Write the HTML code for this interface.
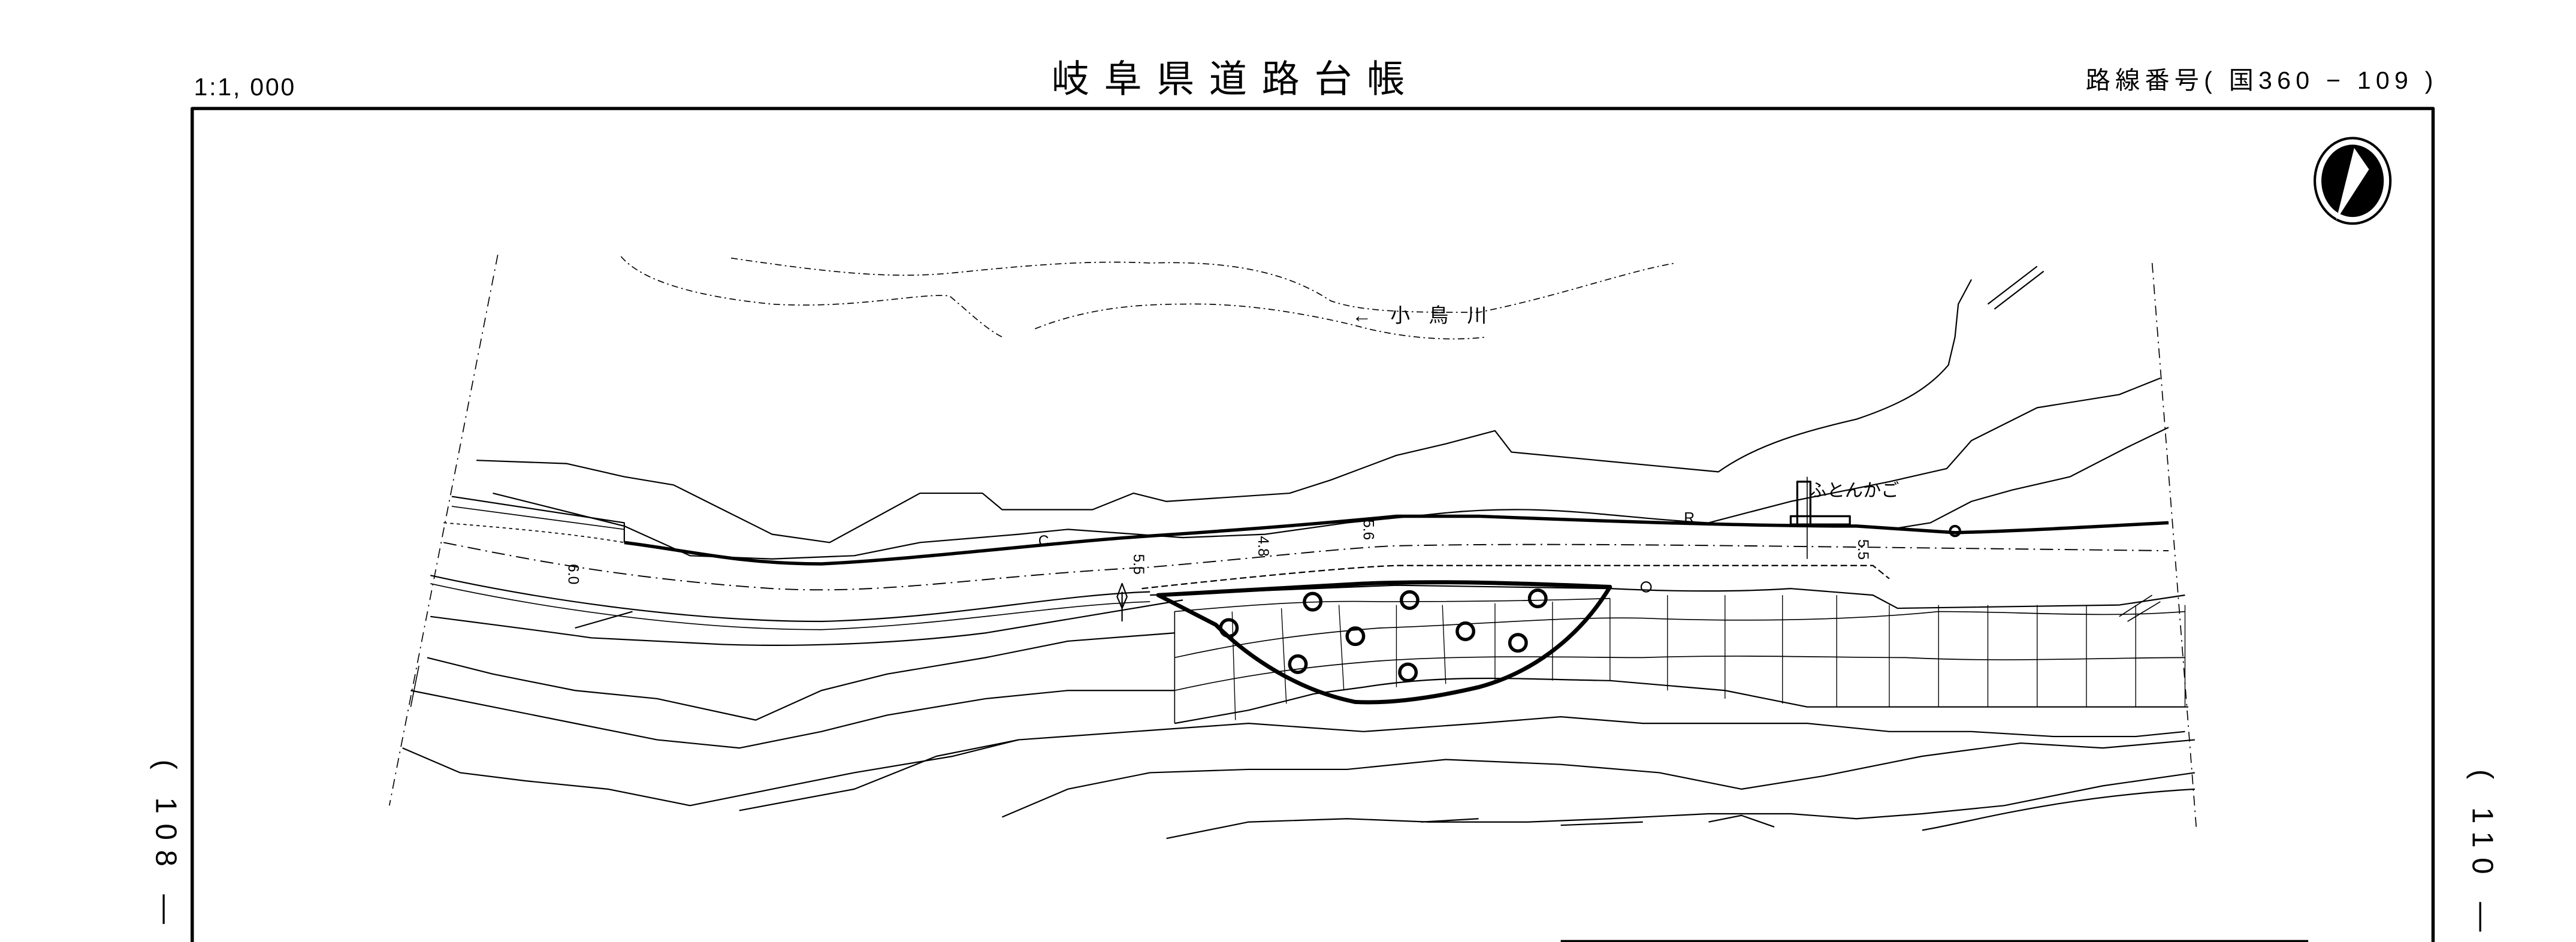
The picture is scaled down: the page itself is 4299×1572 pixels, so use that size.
<!DOCTYPE html>
<html><head><meta charset="utf-8"><style>
html,body{margin:0;padding:0;background:#fff;width:4299px;height:1572px;overflow:hidden}
svg{display:block}
text{font-family:"Liberation Sans","Noto Sans CJK JP",sans-serif;fill:#000}
</style></head><body>
<svg width="4299" height="1572" viewBox="0 0 1568 573" preserveAspectRatio="none" xmlns="http://www.w3.org/2000/svg">
<g fill="none" stroke="#000" stroke-linejoin="round">
<path d="M117,573 V66 H1481 V573" stroke-width="2"/>
<path d="M950,573 H1405" stroke-width="2.5"/>
<ellipse cx="1432" cy="110" rx="23" ry="26" stroke-width="1.5"/>
<ellipse cx="1432" cy="110" rx="19" ry="22" fill="#000" stroke="none"/>
<path d="M1433,90 L1442,103 L1422,134 Z" fill="#fff" stroke="none"/>
<path d="M303,155 L237,490" stroke-width="0.6" stroke-dasharray="6,3,1,3"/>
<path d="M1310,160 L1337,505" stroke-width="0.6" stroke-dasharray="6,3,1,3"/>
<path d="M378,156 C390,170 420,180 470,185 C520,188 560,178 578,180 C590,190 600,200 610,205" stroke-width="0.6" stroke-dasharray="4,2,1,2"/>
<path d="M445,157 C500,165 540,170 580,166 C620,162 660,158 700,160 C760,158 790,170 810,183 C830,190 860,190 900,190 C950,180 990,165 1020,160" stroke-width="0.6" stroke-dasharray="4,2,1,2"/>
<path d="M630,200 C660,188 690,185 720,185 C760,184 800,192 825,198 C850,205 880,208 905,205" stroke-width="0.6" stroke-dasharray="4,2,1,2"/>
<path d="M1210,185 L1240,162 M1214,188 L1244,165" stroke-width="0.8"/>
<path d="M1200,170 L1192,185 L1190,205 L1186,222 C1175,235 1160,245 1130,255 C1100,262 1070,270 1046,287 L920,275 L910,262 L880,270 L850,277 L810,292 L785,300 L710,305 L690,300 L665,310 L610,310 L598,300 L560,300 L505,330 L470,325 L440,310 L410,295 L380,290 L345,282 L290,280" stroke-width="0.8"/>
<path d="M1315,230 L1290,240 L1240,248 L1200,268 L1185,285 L1150,293 L1090,305 L1040,318 C980,315 940,305 870,313 L820,318 L770,325 L720,327 L650,322 L620,325 L560,330 L520,338 L470,340 L420,338 L380,320 L300,300" stroke-width="0.8"/>
<path d="M1320,260 L1295,272 L1260,290 L1225,298 L1200,305 L1175,318 L1150,322" stroke-width="0.8"/>
<path d="M380,330 C420,335 450,343 500,343 C560,340 640,330 700,326 C760,322 810,318 850,314 L900,314 C1000,318 1080,320 1130,320 L1190,324 C1230,323 1280,320 1320,318" stroke-width="2"/>
<path d="M275,302 L380,318 V330" stroke-width="0.8"/>
<path d="M275,308 L380,322" stroke-width="0.6"/>
<path d="M270,330 C320,340 380,352 470,358 C540,362 600,350 700,345 C760,340 820,333 850,332 C950,330 1050,332 1320,335" stroke-width="0.7" stroke-dasharray="8,3,1,3"/>
<path d="M270,318 C320,322 350,325 380,330" stroke-width="0.6" stroke-dasharray="2,2"/>
<path d="M695,358 C750,352 820,345 850,344 L1140,344 L1150,352" stroke-width="0.8" stroke-dasharray="4,2"/>
<path d="M262,350 C330,365 420,378 500,378 C580,376 640,362 700,360" stroke-width="0.8"/>
<path d="M262,355 C330,370 420,383 500,383 C580,380 640,368 700,366" stroke-width="0.6"/>
<path d="M262,375 C300,380 340,385 360,388 L440,392 C500,394 560,390 600,385 C640,378 680,372 720,365" stroke-width="0.8"/>
<path d="M350,382 L385,372" stroke-width="0.8"/>
<path d="M700,362 L850,356 L980,358 C1020,360 1060,360 1090,358 L1140,362 L1155,370 L1290,368 L1330,362" stroke-width="0.8"/>
<path d="M1290,375 L1310,362 M1295,378 L1315,366" stroke-width="0.6"/>
<path d="M715,440 L715,372 C760,368 800,365 840,366 C900,366 950,365 980,364" stroke-width="0.6"/>
<path d="M715,440 L760,432 L800,422 L830,418 C880,410 920,413 980,414 L1050,420 L1100,430 L1150,430 L1332,430" stroke-width="0.8"/>
<path d="M715,400 C760,390 800,385 840,382 C900,380 950,375 1000,376 C1050,378 1120,378 1180,372 C1230,372 1280,376 1330,372" stroke-width="0.6"/>
<path d="M715,420 C760,410 800,405 840,402 C900,398 960,400 1000,400 C1060,398 1110,400 1160,400 C1220,403 1280,400 1330,400" stroke-width="0.6"/>
<g stroke-width="0.5">
<path d="M750,372 L752,438 M780,370 L783,428 M815,368 L818,420 M850,368 L850,418 M878,368 L880,416 M910,367 L910,414 M945,366 L945,414 M980,364 L980,414 M1015,362 L1015,420 M1050,362 L1050,425 M1085,362 L1085,428 M1118,362 L1118,430 M1150,368 L1150,430 M1180,368 L1180,430 M1210,368 L1210,430 M1240,368 L1240,430 M1270,368 L1270,430 M1300,368 L1300,430 M1330,368 L1330,430"/>
</g>
<path d="M705,362 L830,355 C880,353 930,355 980,357 C960,390 930,410 900,418 C870,425 845,428 825,427 C790,420 760,400 740,380 Z" stroke-width="2.5"/>
<g stroke-width="2">
<circle cx="748" cy="382" r="5"/><circle cx="799" cy="366" r="5"/><circle cx="858" cy="365" r="5"/><circle cx="936" cy="364" r="5"/>
<circle cx="825" cy="387" r="5"/><circle cx="892" cy="384" r="5"/><circle cx="924" cy="391" r="5"/>
<circle cx="790" cy="404" r="5"/><circle cx="857" cy="409" r="5"/>
</g>
<circle cx="1002" cy="357" r="3" stroke-width="0.8"/>
<circle cx="1190" cy="323" r="3" stroke-width="1.5"/>
<path d="M260,400 L300,410 L350,420 L400,425 L460,438 L500,420 L540,410 L600,400 L650,390 L715,385" stroke-width="0.8"/>
<path d="M250,420 L300,430 L350,440 L400,450 L450,455 L500,445 L540,435 L600,425 L650,420 L715,420" stroke-width="0.8"/>
<path d="M245,455 L280,470 L320,475 L370,480 L420,490 L470,480 L520,470 L580,460 L620,450 L690,445 L760,440 L830,445 L900,440 L950,436 L1000,440 L1050,440 L1100,440 L1150,445 L1200,445 L1250,448 L1300,448 L1330,445" stroke-width="0.8"/>
<path d="M450,493 L520,480 L570,460 L620,450" stroke-width="0.8"/>
<path d="M610,497 L650,480 L700,470 L760,468 L820,468 L880,462 L950,465 L1010,470 L1060,480 L1110,472 L1170,460 L1230,452 L1280,455 L1336,450" stroke-width="0.8"/>
<path d="M710,510 L760,500 L820,498 L870,500 L930,500 L980,498 L1040,495 L1090,495 L1130,498 L1170,495 L1220,490 L1280,478 L1336,470" stroke-width="0.8"/>
<path d="M865,500 L900,498 M950,502 L1000,500 M1040,500 L1060,496 L1080,503 M1170,505 C1200,500 1250,485 1336,480" stroke-width="0.8"/>
<path d="M255,405 L250,430" stroke-width="0.6"/>
<rect x="1094" y="293" width="8" height="26" stroke-width="1.2"/>
<rect x="1090" y="314" width="36" height="5" stroke-width="1.2"/>
<path d="M1100,290 L1100,340" stroke-width="0.6"/>
<path d="M683,355 L686,363 L683,370 L680,363 Z M683,360 V378" stroke-width="0.8"/>
</g>
<text x="118" y="58" font-size="15" letter-spacing="1">1:1, 000</text>
<text x="752" y="56" font-size="23" text-anchor="middle" letter-spacing="9">岐阜県道路台帳</text>
<text x="1484" y="54" font-size="15" text-anchor="end" letter-spacing="3">路線番号( 国360 − 109 )</text>
<text x="823" y="196" font-size="12" letter-spacing="4">← 小 鳥 川</text>
<text x="1101" y="302" font-size="11">ふとんかご</text>
<text x="632" y="332" font-size="9">C</text>
<text x="1025" y="318" font-size="9">R</text>
<g font-size="9">
<text transform="translate(346,343) rotate(90)">6.0</text>
<text transform="translate(690,337) rotate(90)">5.5</text>
<text transform="translate(766,326) rotate(90)">4.8</text>
<text transform="translate(830,316) rotate(90)">5.6</text>
<text transform="translate(1131,328) rotate(90)">5.5</text>
</g>
<text transform="translate(95,462) rotate(90)" font-size="18" letter-spacing="6">( 108 —</text>
<text transform="translate(1505,468) rotate(90)" font-size="18" letter-spacing="6">( 110 —</text>
</svg>
</body></html>
